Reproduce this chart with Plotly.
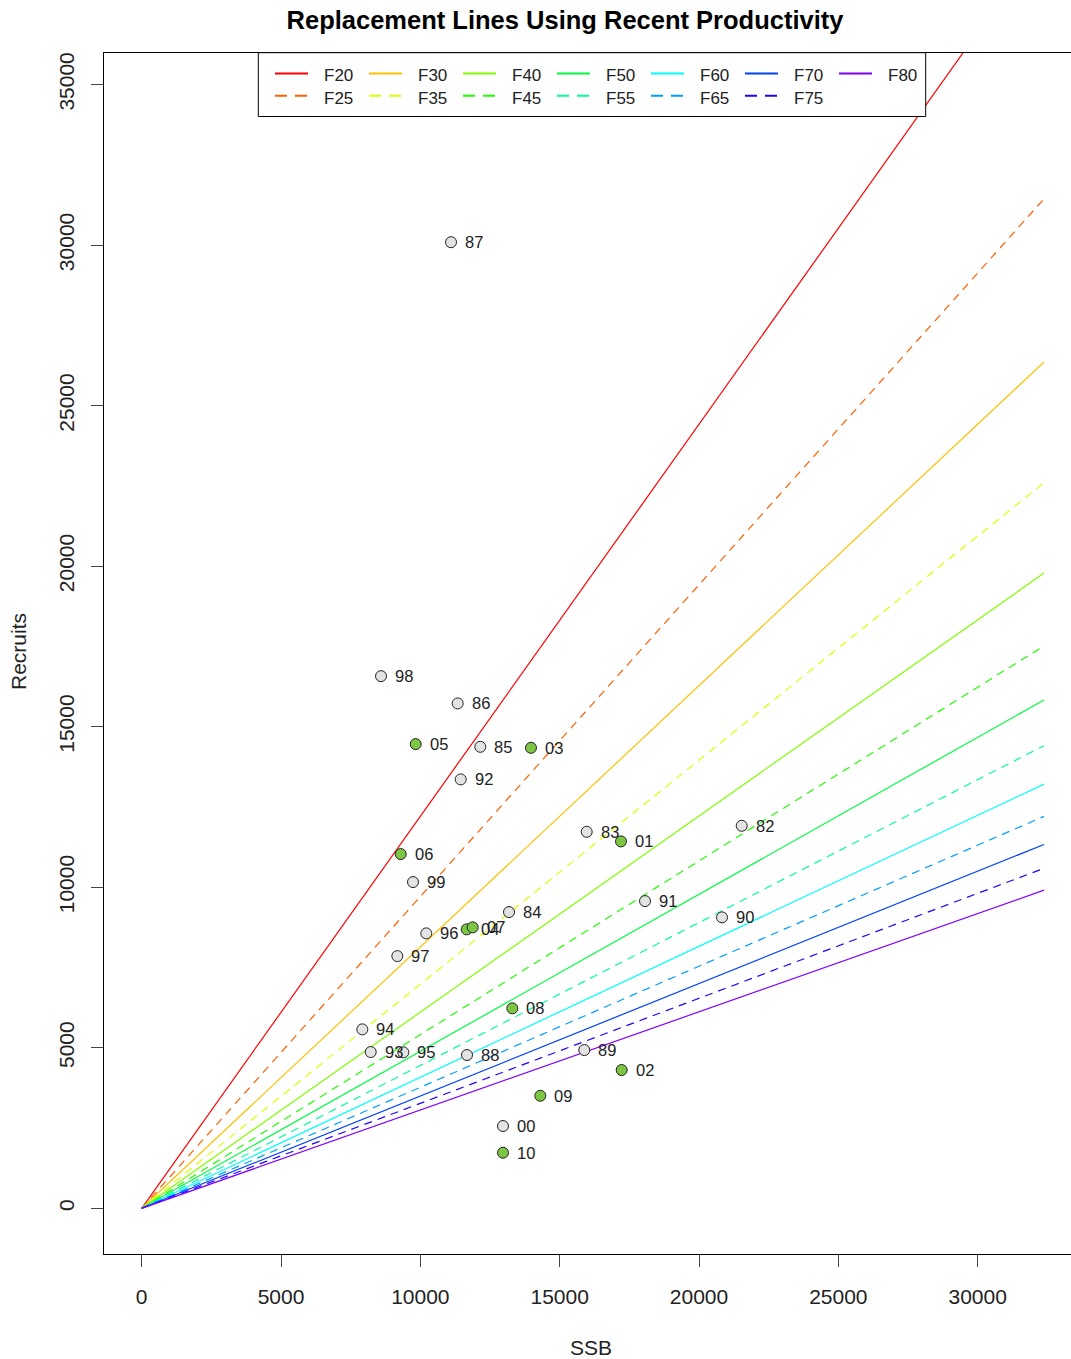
import plotly.graph_objects as go

# Replacement lines: F label, slope (recruits per unit SSB), colour
f_labels = ["F20", "F25", "F30", "F35", "F40", "F45", "F50", "F55", "F60", "F65", "F70", "F75", "F80"]
f_slopes = [1.221, 0.971, 0.814, 0.698, 0.611, 0.541, 0.489, 0.445, 0.408, 0.377, 0.350, 0.327, 0.306]
f_colors = ["#FF0000", "#FF6000", "#FFBF00", "#DFFF00", "#80FF00", "#20FF00", "#00FF40",
            "#00FF9F", "#00FFFF", "#009FFF", "#0040FF", "#2000FF", "#8000FF"]
ssb_line = [0, 32380]

# Stock-recruit observations
years = ["82", "83", "84", "85", "86", "87", "88", "89", "90", "91", "92", "93", "94", "95",
         "96", "97", "98", "99", "00", "01", "02", "03", "04", "05", "06", "07", "08", "09", "10"]
ssb = [21532, 15969, 13181, 12151, 11340, 11100, 11674, 15883, 20825, 18062, 11448, 8218, 7917, 9388,
       10213, 9173, 8588, 9736, 12966, 17200, 17225, 13970, 11663, 9833, 9294, 11878, 13300, 14304, 12966]
recruits = [11914, 11727, 9227, 14374, 15725, 30090, 4774, 4929, 9061, 9569, 13359, 4867, 5574, 4858,
            8563, 7856, 16575, 10161, 2563, 11428, 4307, 14343, 8688, 14458, 11033, 8750, 6228, 3506, 1731]
recent = ["01", "02", "03", "04", "05", "06", "07", "08", "09", "10"]

x_ticks = [0, 5000, 10000, 15000, 20000, 25000, 30000]
y_ticks = [0, 5000, 10000, 15000, 20000, 25000, 30000, 35000]

FONT = "Liberation Sans, Arial, sans-serif"
W, H = 1071, 1359
ML, MR, MT, MB = 104, 0, 53, 105
PW, PH = W - ML - MR, H - MT - MB


def px(x):  # page pixel -> paper x
    return (x - ML) / PW


def py(y):  # page pixel -> paper y
    return (H - MB - y) / PH


fig = go.Figure()

for i, (lab, s, c) in enumerate(zip(f_labels, f_slopes, f_colors)):
    dashed = i % 2 == 1
    fig.add_trace(go.Scatter(
        x=ssb_line, y=[v * s for v in ssb_line], mode="lines", name=lab,
        line=dict(color=c, width=1.2, dash="8px,6px" if dashed else "solid"),
        showlegend=False, hoverinfo="skip"))

old_idx = [i for i, y in enumerate(years) if y not in recent]
new_idx = [i for i, y in enumerate(years) if y in recent]
for idx, fill in ((old_idx, "#E3E3E3"), (new_idx, "#7CC644")):
    fig.add_trace(go.Scatter(
        x=[ssb[i] for i in idx], y=[recruits[i] for i in idx], mode="markers",
        marker=dict(size=11, color=fill, line=dict(color="#222", width=1)),
        showlegend=False))

annotations = [
    dict(text=yr, x=sx, y=ry, xref="x", yref="y", xanchor="left", yanchor="middle",
         xshift=12, showarrow=False, font=dict(family=FONT, size=16.5, color="#222"))
    for yr, sx, ry in zip(years, ssb, recruits)
]
annotations += [
    dict(text="SSB", xref="paper", yref="paper", x=px(591), y=py(1347),
         xanchor="center", yanchor="middle", showarrow=False, font=dict(size=21)),
    dict(text="Recruits", xref="paper", yref="paper", x=px(18), y=py(652),
         xanchor="center", yanchor="middle", textangle=-90, showarrow=False, font=dict(size=21)),
]

# manual two-row legend (R style)
shapes = [dict(type="rect", xref="paper", yref="paper", x0=px(258.3), x1=px(925.7),
               y0=py(116.5), y1=py(52.7), line=dict(color="black", width=1), fillcolor="white",
               layer="above")]
for i, (lab, c) in enumerate(zip(f_labels, f_colors)):
    row, col = i % 2, i // 2
    lx = 275 + 94 * col
    ly = 73.5 + 22.2 * row
    shapes.append(dict(type="line", xref="paper", yref="paper", x0=px(lx), x1=px(lx + 33),
                       y0=py(ly), y1=py(ly), layer="above",
                       line=dict(color=c, width=2, dash="12px,8px" if row else "solid")))
    annotations.append(dict(text=lab, xref="paper", yref="paper", x=px(lx + 47), y=py(ly + 2.5),
                            xanchor="left", yanchor="middle", showarrow=False,
                            font=dict(family=FONT, size=17, color="#222")))

fig.update_layout(
    width=W, height=H,
    margin=dict(l=ML, r=MR, t=MT, b=MB),
    plot_bgcolor="white", paper_bgcolor="white",
    font=dict(family=FONT, size=21, color="#222"),
    showlegend=False,
    title=dict(text="<b>Replacement Lines Using Recent Productivity</b>",
               font=dict(family=FONT, size=25.5, color="black"),
               xref="container", x=565 / W, xanchor="center",
               yref="container", y=1 - 20 / H, yanchor="middle"),
    xaxis=dict(range=[-1353, 33349], tickvals=x_ticks, ticktext=[str(v) for v in x_ticks],
               showgrid=False, zeroline=False, showline=True, linecolor="black", linewidth=1,
               mirror=True, ticks="outside", ticklen=12, tickcolor="#444",
               ticklabelstandoff=12, tickfont=dict(size=21)),
    yaxis=dict(range=[-1423, 35983], tickvals=y_ticks, ticktext=[str(v) for v in y_ticks],
               showgrid=False, zeroline=False, showline=True, linecolor="black", linewidth=1,
               ticks="outside", ticklen=12, tickcolor="#444", tickangle=-90,
               ticklabelstandoff=9, tickfont=dict(size=21)),
    annotations=annotations,
    shapes=shapes,
)

fig.write_html("out.html", config={"displayModeBar": False},
               post_script="document.body.style.margin='0px';document.body.style.overflow='hidden';")
